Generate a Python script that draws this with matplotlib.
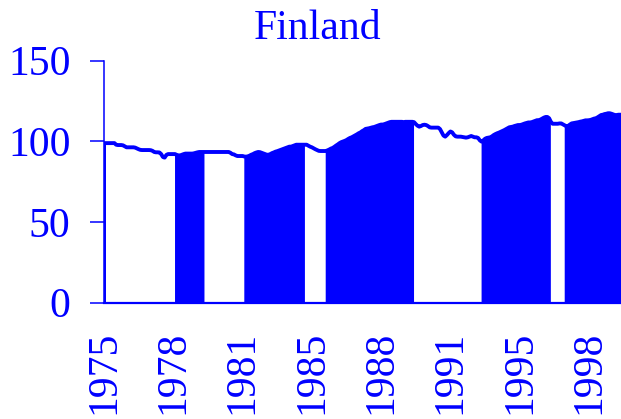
import numpy as np
import matplotlib
matplotlib.use("Agg")
import matplotlib.pyplot as plt

plt.rcParams['font.family'] = ['Liberation Serif', 'DejaVu Serif']

# monthly index values, 1975:01 - 1999:12
y1975 = [98.8, 98.8, 98.8, 98.8, 98.8, 98.8, 98.8, 97.8, 97.6, 97.6, 97.6, 97.4]
y1976 = [96.8, 96.2, 96.2, 96.2, 96.2, 96.2, 96.0, 95.5, 95.0, 94.6, 94.5, 94.5]
y1977 = [94.5, 94.5, 94.5, 94.4, 94.0, 93.3, 93.1, 93.1, 93.0, 92.0, 90.2, 89.8]
y1978 = [91.5, 92.0, 92.0, 92.0, 92.0, 92.0, 91.5, 91.2, 91.2, 91.6, 92.0, 92.3]
y1979 = [92.3, 92.3, 92.3, 92.3, 92.5, 92.8, 93.1, 93.3, 93.3, 93.3, 93.3, 93.3]
y1980 = [93.3, 93.3, 93.3, 93.3, 93.3, 93.3, 93.3, 93.3, 93.3, 93.3, 93.3, 93.3]
y1981 = [93.3, 92.8, 92.0, 91.8, 91.2, 90.8, 90.8, 90.8, 90.8, 90.5, 90.4, 90.6]
y1982 = [91.0, 91.6, 92.0, 92.6, 93.0, 93.3, 93.2, 92.8, 92.4, 92.0, 91.6, 91.6]
y1983 = [92.0, 92.6, 93.0, 93.5, 93.8, 94.2, 94.6, 95.0, 95.4, 95.8, 96.2, 96.6]
y1984 = [96.6, 97.0, 97.4, 97.8, 97.8, 97.8, 97.8, 97.8, 97.8, 97.8, 97.2, 96.6]
y1985 = [96.2, 95.6, 95.0, 94.5, 94.0, 93.9, 93.9, 93.9, 93.9, 94.3, 94.8, 95.4]
y1986 = [95.8, 96.5, 97.3, 98.0, 98.8, 99.4, 99.8, 100.2, 100.7, 101.4, 102.0, 102.4]
y1987 = [103.0, 103.6, 104.2, 104.9, 105.4, 106.2, 106.8, 107.6, 107.8, 108.0, 108.3, 108.6]
y1988 = [108.8, 109.2, 109.6, 110.0, 110.3, 110.3, 110.6, 111.0, 111.4, 111.8, 112.0, 112.0]
y1989 = [112.0, 112.0, 112.0, 112.0, 112.0, 111.8, 112.0, 112.0, 112.0, 112.0, 112.0, 111.8]
y1990 = [110.6, 109.6, 109.0, 109.4, 110.0, 110.2, 110.0, 109.4, 108.6, 108.4, 108.4, 108.4]
y1991 = [108.4, 108.4, 107.5, 105.5, 103.5, 102.8, 103.8, 105.0, 106.0, 105.5, 104.0, 103.0]
y1992 = [102.8, 102.8, 102.8, 102.6, 102.4, 102.2, 102.4, 102.8, 103.2, 102.8, 102.4, 102.4]
y1993 = [102.0, 100.5, 99.7, 100.5, 101.5, 102.0, 102.2, 102.4, 103.0, 103.8, 104.4, 104.9]
y1994 = [105.3, 105.8, 106.3, 106.8, 107.4, 108.0, 108.6, 108.8, 109.0, 109.4, 109.7, 110.0]
y1995 = [110.0, 110.2, 110.6, 111.0, 111.3, 111.6, 111.6, 111.8, 112.2, 112.6, 113.0, 113.0]
y1996 = [113.4, 114.0, 114.6, 115.0, 115.0, 114.2, 112.0, 110.8, 110.8, 110.8, 110.8, 111.0]
y1997 = [111.0, 110.4, 109.8, 109.2, 109.5, 110.3, 111.0, 111.2, 111.4, 111.6, 111.8, 112.1]
y1998 = [112.3, 112.6, 112.9, 112.9, 113.0, 113.2, 113.6, 114.0, 114.2, 114.8, 115.5, 116.2]
y1999 = [116.4, 116.8, 117.0, 117.3, 117.3, 117.0, 116.6, 116.2, 116.2, 116.4, 116.4, 116.4]

values = (y1975 + y1976 + y1977 + y1978 + y1979 + y1980 + y1981 + y1982 + y1983
          + y1984 + y1985 + y1986 + y1987 + y1988 + y1989 + y1990 + y1991 + y1992
          + y1993 + y1994 + y1995 + y1996 + y1997 + y1998 + y1999)

# shaded periods (start, end) as year-month
periods = [("1975-01", "1975-02"), ("1978-06", "1979-11"), ("1981-10", "1984-09"),
           ("1985-09", "1989-12"), ("1993-03", "1996-07"), ("1997-03", "1999-12")]

tick_labels = ["1975", "1978", "1981", "1985", "1988", "1991", "1995", "1998"]

blue = "#0000FF"
vals = np.array(values)
x = np.arange(len(vals))


def month_index(s):
    yr, mo = s.split("-")
    return (int(yr) - 1975) * 12 + int(mo) - 1


mask = np.zeros(len(vals), dtype=bool)
for a, b in periods:
    mask[month_index(a):month_index(b) + 1] = True

fig = plt.figure(figsize=(6.21, 4.19), dpi=100)
ax = fig.add_axes([0.1675, 0.278, 0.8325, 0.5776])

ax.fill_between(x, 0, vals, where=mask, color=blue, linewidth=0)
ax.plot(x, vals, color=blue, linewidth=2.8, solid_joinstyle="round")

ax.set_xlim(0, 298.5)
ax.set_ylim(0, 150)
ax.set_yticks([0, 50, 100, 150])
ax.set_xticks(np.arange(len(tick_labels)) * 40)
ax.set_xticklabels(tick_labels, rotation=90)

for s in ["top", "right"]:
    ax.spines[s].set_visible(False)
ax.spines["left"].set_color(blue)
ax.spines["left"].set_linewidth(1.1)
ax.spines["bottom"].set_color(blue)
ax.spines["bottom"].set_linewidth(1.6)
ax.spines["bottom"].set_zorder(5)

ax.tick_params(axis="y", colors=blue, labelsize=30, length=10, width=1.1,
               pad=14)
ax.tick_params(axis="x", colors=blue, labelsize=30, length=0, pad=20)

fig.text(0.511, 0.907, "Finland", color=blue, fontsize=30, ha="center",
         va="baseline")

fig.savefig("out.png", dpi=100)
